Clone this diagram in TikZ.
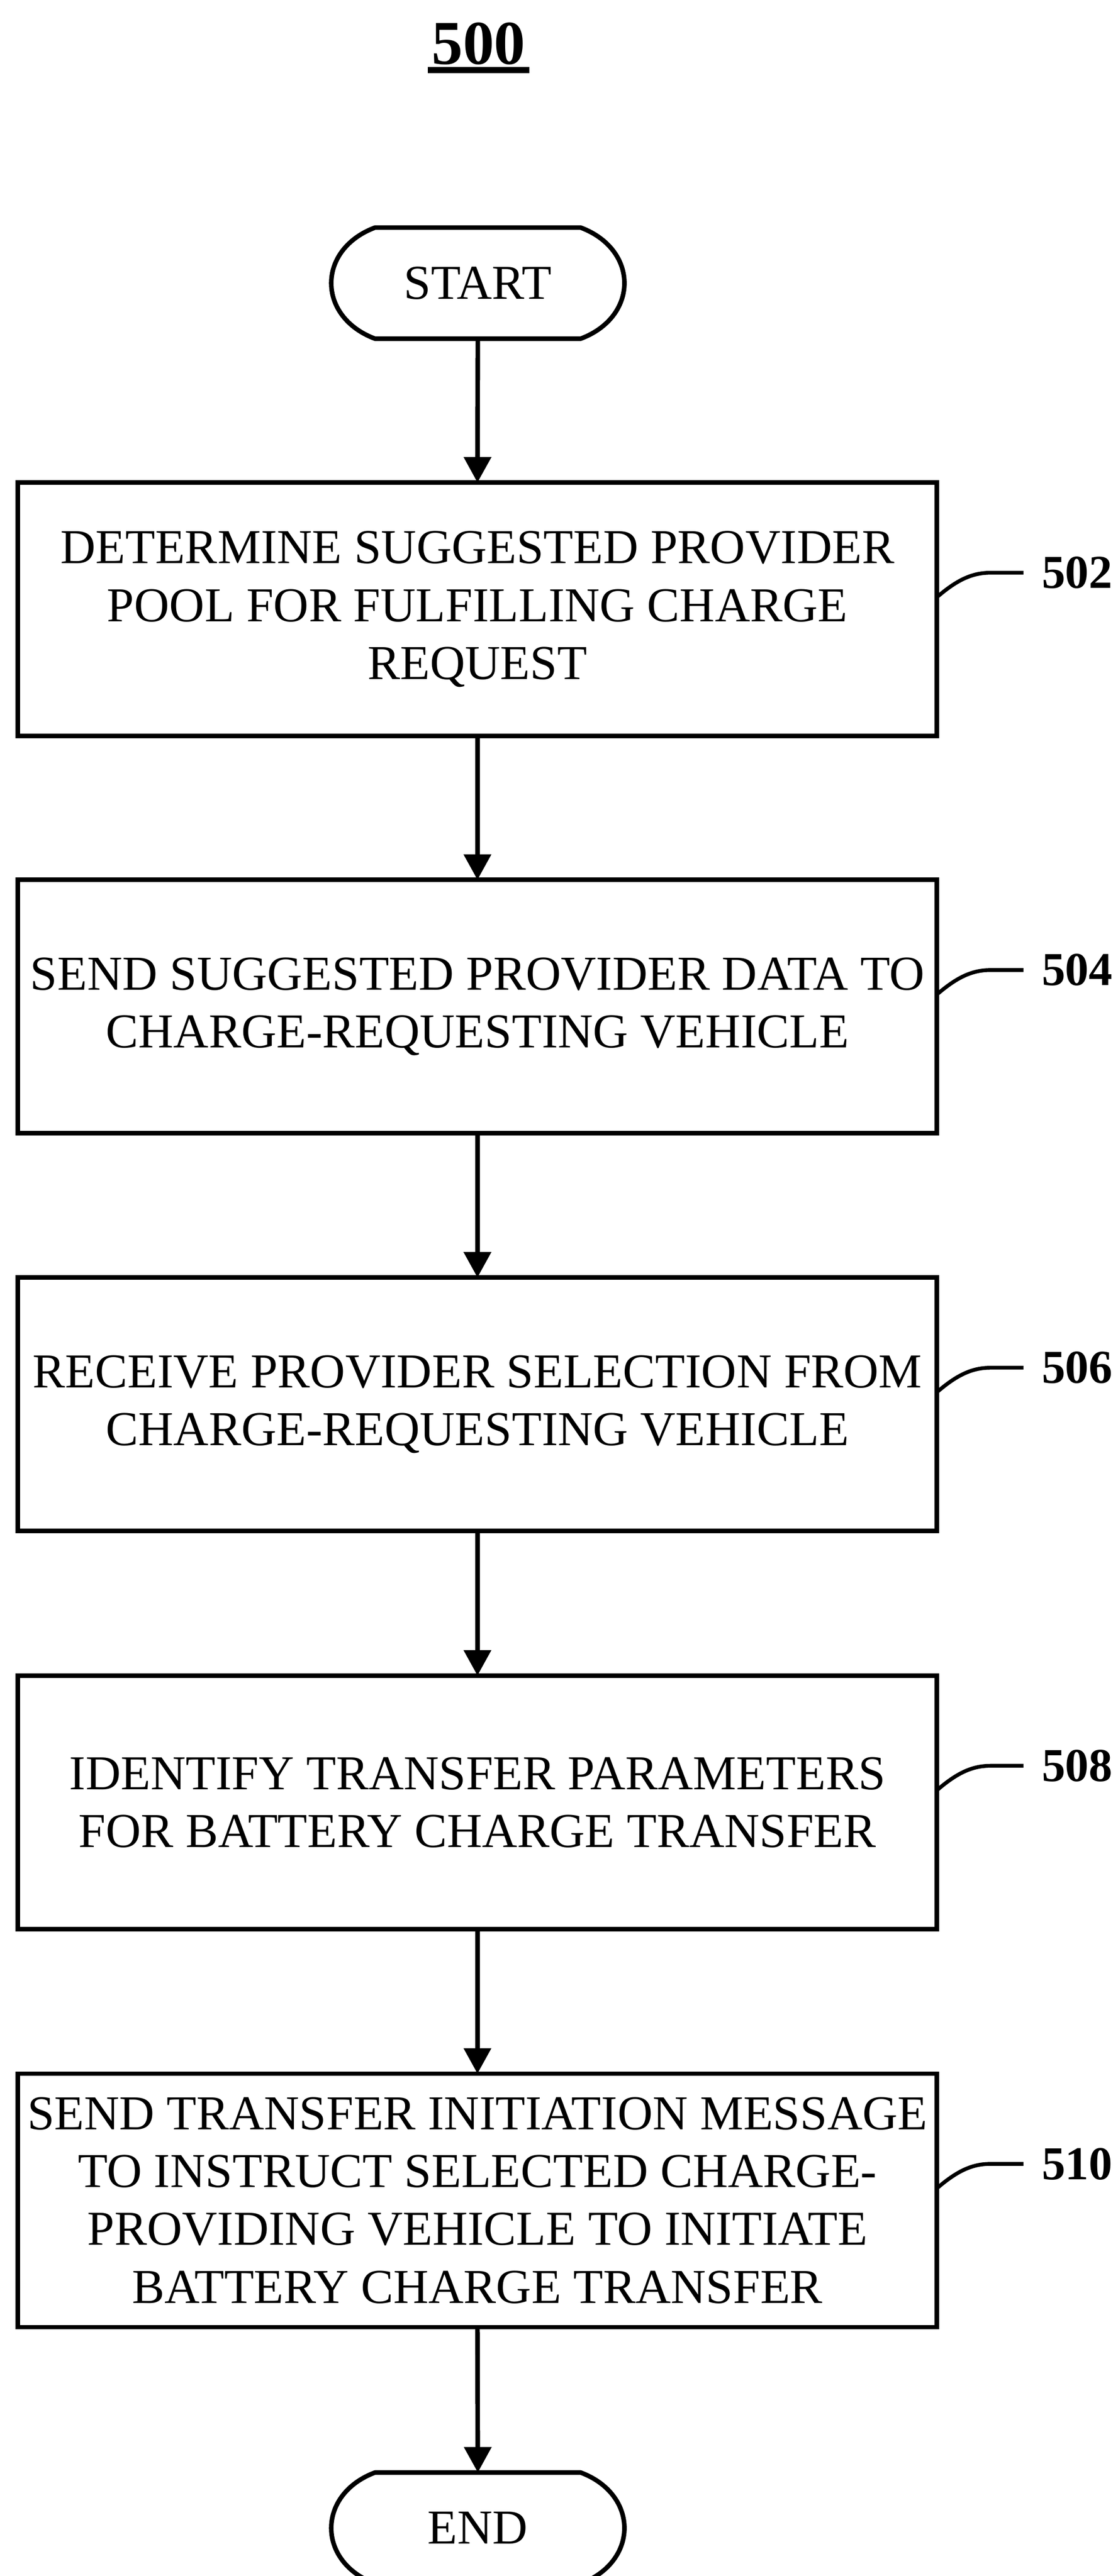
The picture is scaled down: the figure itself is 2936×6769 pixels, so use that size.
\documentclass[tikz,border=0pt]{standalone}
\usepackage{fontspec}
\setmainfont{Liberation Serif}
\usetikzlibrary{arrows.meta,calc}
\begin{document}
\begin{tikzpicture}[x=0.25pt,y=-0.25pt,
  stepbox/.style={draw, line width=3pt, minimum width=603.5pt, minimum height=166.5pt, align=center, inner sep=0pt, outer sep=0pt, font=\fontsize{32}{38}\selectfont},
  termnode/.style={minimum width=192.25pt, minimum height=73pt, inner sep=0pt, outer sep=0pt, font=\fontsize{32}{38}\selectfont},
  termline/.style={line width=3pt, line join=round},
  conn/.style={line width=3pt, -{Triangle[length=16.75pt,width=17.5pt]}},
  refnum/.style={font=\fontsize{31}{36}\selectfont\bfseries, anchor=west, inner xsep=12pt, inner ysep=0pt, outer sep=0pt},
  leader/.style={line width=2.5pt},
]
\useasboundingbox (0,0) rectangle (2936,6769);

% title
\node[font=\fontsize{41}{48}\selectfont\bfseries, inner sep=0pt] (title) at (1257,115) {500};
\draw[line width=3.75pt] ($(title.south west)+(-10,13)$) -- ($(title.south east)+(10,13)$);

% terminals
\node[termnode] (start) at (1255,744) {START};
\node[termnode] (stop) at (1255,6643) {END};
\foreach \t in {start,stop}{
  \draw[termline, shift={(\t.center)}] (-270,-146) -- (270,-146)
    .. controls (345,-118) and (385,-60) .. (385,0)
    .. controls (385,60) and (345,118) .. (270,146) -- (-270,146)
    .. controls (-345,118) and (-385,60) .. (-385,0)
    .. controls (-385,-60) and (-345,-118) .. cycle;
}

% steps
\node[stepbox] (b502) at (1254,1601) {DETERMINE SUGGESTED PROVIDER\\POOL FOR FULFILLING CHARGE\\REQUEST};
\node[stepbox] (b504) at (1254,2645) {SEND SUGGESTED PROVIDER DATA TO\\CHARGE-REQUESTING VEHICLE};
\node[stepbox] (b506) at (1254,3690) {RECEIVE PROVIDER SELECTION FROM\\CHARGE-REQUESTING VEHICLE};
\node[stepbox] (b508) at (1254,4736) {IDENTIFY TRANSFER PARAMETERS\\FOR BATTERY CHARGE TRANSFER};
\node[stepbox] (b510) at (1254,5782) {SEND TRANSFER INITIATION MESSAGE\\TO INSTRUCT SELECTED CHARGE-\\PROVIDING VEHICLE TO INITIATE\\BATTERY CHARGE TRANSFER};

% reference numerals and leaders
\foreach \n in {502,504,506,508,510}{
  \node[refnum] (l\n) at ($(b\n.east)+(227,-96)$) {\n};
  \draw[leader] ($(b\n.east)+(0,-32)$) .. controls ($(b\n.east)+(50,-75)$) and ($(b\n.east)+(90,-96)$) .. ($(b\n.east)+(140,-96)$) -- (l\n.west);
}

% connectors
\draw[conn] (start.south) -- (b502.north);
\draw[conn] (b502.south) -- (b504.north);
\draw[conn] (b504.south) -- (b506.north);
\draw[conn] (b506.south) -- (b508.north);
\draw[conn] (b508.south) -- (b510.north);
\draw[conn] (b510.south) -- (stop.north);
\end{tikzpicture}
\end{document}
